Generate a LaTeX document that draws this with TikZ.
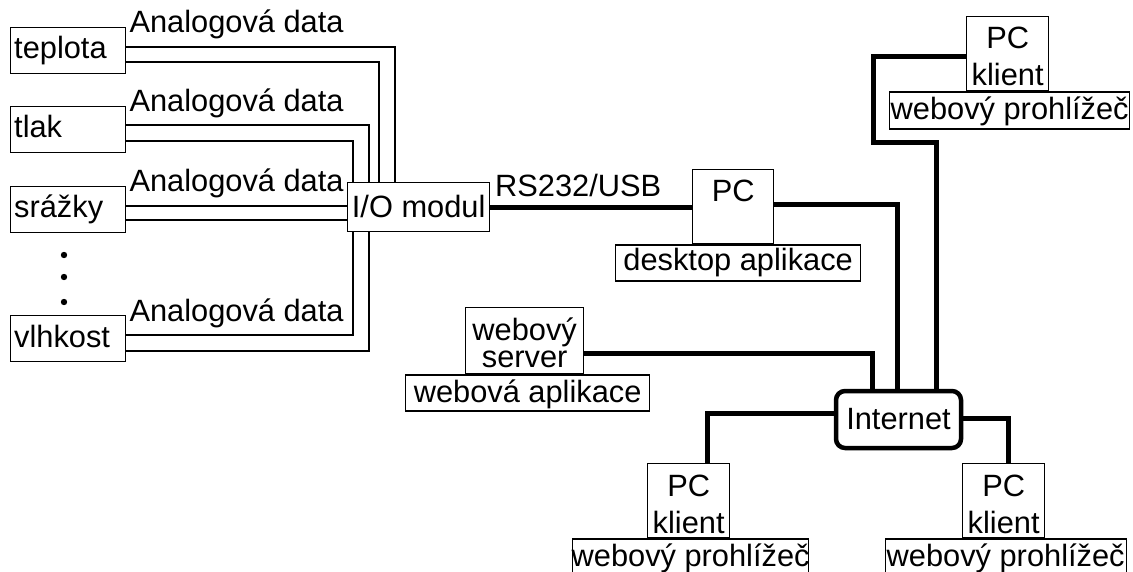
\documentclass[tikz,border=0pt]{standalone}
\usepackage{fontspec}
\setmainfont{Liberation Sans}
\usetikzlibrary{backgrounds}
\begin{document}
\begin{tikzpicture}[x=1pt,y=-1pt,
  every node/.style={font=\fontsize{30.8}{36}\selectfont},
  box/.style={draw, line width=1.3pt, inner sep=0pt, fill=white},
  txt/.style={inner sep=0pt, anchor=base},
  ltxt/.style={inner sep=0pt, anchor=base west},
  wire/.style={line width=1.5pt},
  link/.style={line width=5pt},
  cloud/.style={draw, line width=4.5pt, rounded corners=9pt, inner sep=0pt,
    minimum width=125pt, minimum height=57pt, fill=white},
]
\useasboundingbox (0,0) rectangle (1133,572);

% sensors
\foreach \nm/\t/\y in {teplota/teplota/27, tlak/tlak/106, srazky/srážky/186, vlhkost/vlhkost/315}{
  \node[box, anchor=north west, minimum width=115pt, minimum height=46pt] (\nm) at (10,\y) {};
  \node[ltxt] (\nm-t) at ([xshift=4pt,yshift=-32pt]\nm.north west) {\t};
  \node[ltxt] (\nm-a) at ([xshift=3pt,yshift=-6pt]\nm.north east) {Analogová data};
}
\fill (64,255) circle (3.2pt) (64,277) circle (3.2pt) (64,302) circle (3.2pt);

% I/O module
\node[box, anchor=north west, minimum width=142pt, minimum height=49pt] (io) at (347,182) {};
\node[txt] (io-t) at ([yshift=-36pt]io.north) {I/O modul};

% analog wires
\draw[wire] ([yshift=-20pt]teplota.north east) -| ([xshift=48pt]io.north west);
\draw[wire] ([yshift=-35pt]teplota.north east) -| ([xshift=32pt]io.north west);
\draw[wire] ([yshift=-19pt]tlak.north east) -| ([xshift=22pt]io.north west);
\draw[wire] ([yshift=-35pt]tlak.north east) -| ([xshift=6pt]io.north west);
\draw[wire] ([yshift=-20pt]srazky.north east) -- ([yshift=-20pt]srazky.north east -| io.west);
\draw[wire] ([yshift=-34pt]srazky.north east) -- ([yshift=-34pt]srazky.north east -| io.west);
\draw[wire] ([yshift=-20pt]vlhkost.north east) -| ([xshift=6pt]io.south west);
\draw[wire] ([yshift=-36pt]vlhkost.north east) -| ([xshift=22pt]io.south west);

% desktop PC
\node[box, anchor=north west, minimum width=81pt, minimum height=74pt] (pc) at (692,169) {};
\node[txt] (pc-t) at ([yshift=-33pt]pc.north) {PC};
\node[box, anchor=north, minimum width=245pt, minimum height=36pt] (desk) at ([xshift=5pt]pc.south) {};
\node[txt] (desk-t) at ([yshift=-26pt]desk.north) {desktop aplikace};
\node[ltxt] (rs) at (495,197) {RS232/USB};
\draw[link] (io.east) -- (io.east -| pc.west);

% Internet
\node[cloud] (inet) at (898.5,419.5) {Internet};

% web server
\node[box, anchor=north west, minimum width=118pt, minimum height=66pt] (srv) at (465,307) {};
\node[inner sep=0pt, anchor=north, align=center, font=\fontsize{30.8}{27}\selectfont]
  (srv-t) at ([yshift=-10.5pt]srv.north) {webový\\server};
\node[box, anchor=north, minimum width=244pt, minimum height=36pt] (app) at ([xshift=3pt]srv.south) {};
\node[txt] (app-t) at ([yshift=-28pt]app.north) {webová aplikace};

% client PCs
\foreach \nm/\x/\y/\w/\dx in {pcT/966/16/240/2, pcL/647/463/236/2, pcR/962/463/241/2}{
  \node[box, anchor=north west, minimum width=82pt, minimum height=74pt] (\nm) at (\x,\y) {};
  \node[txt] (\nm-t1) at ([yshift=-33pt]\nm.north) {PC};
  \node[txt] (\nm-t2) at ([yshift=-70pt]\nm.north) {klient};
  \node[box, anchor=north, minimum width=\w pt, minimum height=37pt] (\nm-b) at ([xshift=\dx pt]\nm.south) {};
  \node[txt] (\nm-bt) at ([yshift=-28pt]\nm-b.north) {webový prohlížeč};
}

% network links, drawn behind the boxes
\coordinate (bendT) at (873,143);
\begin{scope}[on background layer]
\draw[link] ([yshift=-36pt]pc.north east) -| ([xshift=-1.5pt]inet.north);
\draw[link] ([yshift=-46pt]srv.north east) -| ([xshift=-26.5pt]inet.north);
\draw[link] ([yshift=-41pt]pcT.north west) -| (bendT) -| ([xshift=37.5pt]inet.north);
\draw[link] ([yshift=6.5pt]inet.west) -| ([xshift=60pt]pcL.north west);
\draw[link] ([yshift=1.5pt]inet.east) -| ([xshift=46pt]pcR.north west);
\end{scope}
\end{tikzpicture}
\end{document}
